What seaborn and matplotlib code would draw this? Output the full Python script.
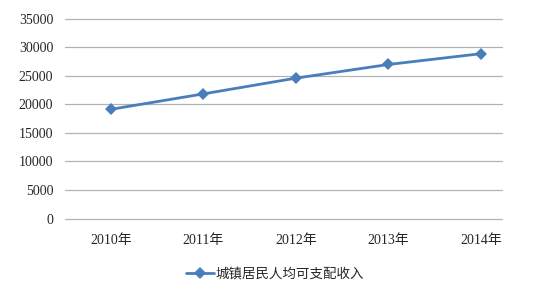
import matplotlib
matplotlib.use("Agg")
import matplotlib.pyplot as plt
import seaborn as sns
import pandas as pd

years = ["2010年", "2011年", "2012年", "2013年", "2014年"]
income = [19109, 21810, 24565, 26955, 28844]
series_name = "城镇居民人均可支配收入"
yticks = [0, 5000, 10000, 15000, 20000, 25000, 30000, 35000]

sns.set_theme(style="white")
plt.rcParams['font.family'] = ['Liberation Serif', 'Noto Sans CJK SC', 'DejaVu Sans']

df = pd.DataFrame({"year": years, "value": income, "series": series_name})

fig = plt.figure(figsize=(5.33, 3.0), dpi=100)
ax = fig.add_axes([65 / 533, 1 - 218.5 / 300, 437 / 533, 200 / 300])
sns.lineplot(data=df, x="year", y="value", hue="series", palette=["#4A7EBB"],
             marker="D", markersize=6, markeredgewidth=0, linewidth=2.0,
             sort=False, ax=ax)

ax.set_xlim(-0.497, 4.227)
ax.set_ylim(0, 35000)
ax.set_yticks(yticks)
ax.set_yticklabels([str(v) for v in yticks], fontsize=10)
ax.set_xticks(range(len(years)))
ax.set_xticklabels(years, fontsize=10)
ax.tick_params(axis='y', length=0, pad=8.5)
ax.tick_params(axis='x', length=0, pad=11)
ax.grid(axis='y', color='#b3b3b3', linewidth=0.9)
for gl in ax.get_ygridlines():
    gl.set_clip_on(False)
ax.set_axisbelow(True)
for s in ax.spines.values():
    s.set_visible(False)
ax.set_xlabel("")
ax.set_ylabel("")

leg = ax.legend(loc='center', bbox_to_anchor=((275 - 65) / 437, -(274 - 218.5) / 200),
                frameon=False, prop={'family': ['Noto Sans CJK SC', 'DejaVu Sans'], 'size': 9.7},
                handlelength=2.1, handletextpad=0.15)

fig.savefig("out.png", dpi=100, facecolor="white")
